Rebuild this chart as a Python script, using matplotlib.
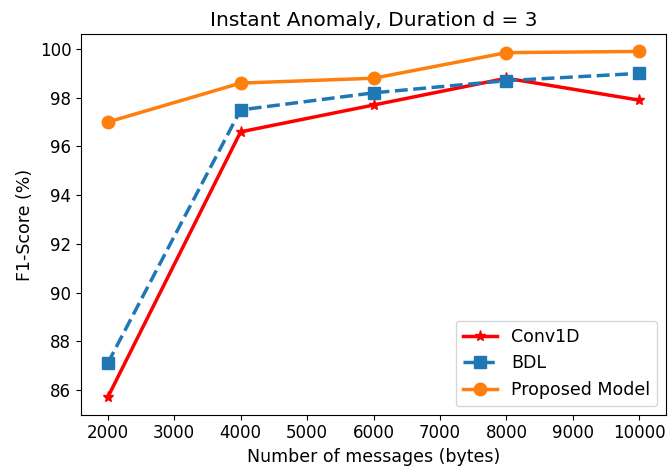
import matplotlib
matplotlib.use('Agg')
import matplotlib.pyplot as plt

# dati
messages = [2000, 4000, 6000, 8000, 10000]
conv1d = [85.7, 96.6, 97.7, 98.8, 97.9]
bdl = [87.1, 97.5, 98.2, 98.7, 99.0]
proposed = [97.0, 98.6, 98.8, 99.85, 99.9]

fig, ax = plt.subplots(figsize=(6.7, 4.74), dpi=100)

ax.plot(messages, conv1d, color='red', marker='*', markersize=8, linewidth=2.5, label='Conv1D')
ax.plot(messages, bdl, color='#1f77b4', marker='s', markersize=8.5, linewidth=2.5, linestyle='--', label='BDL')
ax.plot(messages, proposed, color='#ff7f0e', marker='o', markersize=9, linewidth=2.5, label='Proposed Model')

ax.set_xticks(range(2000, 10001, 1000))
ax.set_yticks(range(86, 101, 2))
ax.tick_params(labelsize=12)
ax.set_xlabel('Number of messages (bytes)', fontsize=12.5)
ax.set_ylabel('F1-Score (%)', fontsize=12.5)
ax.set_title('Instant Anomaly, Duration d = 3', fontsize=14.5)
ax.legend(loc='lower right', fontsize=12.5)

fig.subplots_adjust(left=0.121, right=0.994, top=0.928, bottom=0.125)
fig.savefig('out.png')
